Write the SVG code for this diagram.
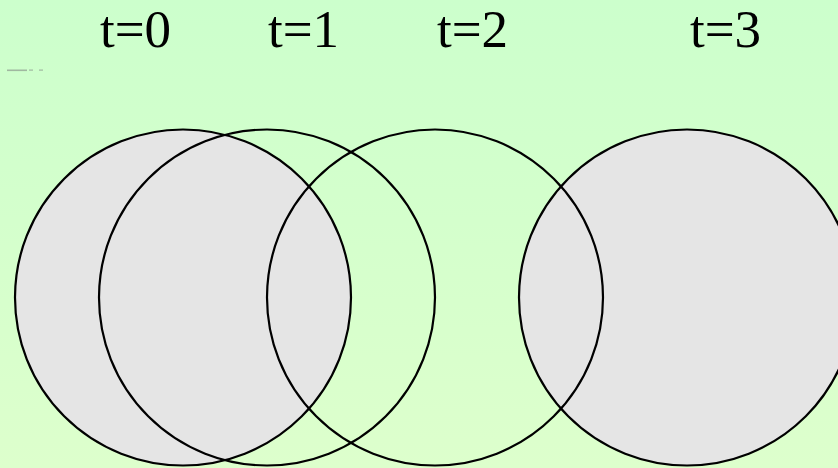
<svg xmlns="http://www.w3.org/2000/svg" width="838" height="468" viewBox="0 0 838 468">
  <defs>
    <linearGradient id="bg" x1="0" y1="0" x2="0" y2="1">
      <stop offset="0" stop-color="#CCFFCC"/>
      <stop offset="1" stop-color="#DDFFCC"/>
    </linearGradient>
  </defs>
  <style>
    .lbl { font-family: "Liberation Serif", "Times New Roman", serif; font-size: 53px; fill: #000; }
    .c { stroke: #000; stroke-width: 2.2; }
    .gray { fill: #E5E5E5; }
    .none { fill: none; }
    .mark { fill: #A0B8A0; }
  </style>
  <rect x="0" y="0" width="838" height="468" fill="url(#bg)"/>
  <g id="artifact">
    <rect class="mark" x="7" y="69.5" width="20" height="1.6"/>
    <rect class="mark" x="29" y="69.5" width="4" height="1.2"/>
    <rect class="mark" x="39" y="69.5" width="4" height="1.2"/>
  </g>
  <g id="fills">
    <circle class="gray" cx="183" cy="297.5" r="168"/>
    <circle class="gray" cx="687" cy="297.5" r="168"/>
  </g>
  <g id="c0"><circle class="c none" cx="183" cy="297.5" r="168"/><text class="lbl" x="100" y="46.5">t=0</text></g>
  <g id="c1"><circle class="c none" cx="267" cy="297.5" r="168"/><text class="lbl" x="268" y="46.5">t=1</text></g>
  <g id="c2"><circle class="c none" cx="435" cy="297.5" r="168"/><text class="lbl" x="437" y="46.5">t=2</text></g>
  <g id="c3"><circle class="c none" cx="687" cy="297.5" r="168"/><text class="lbl" x="690" y="46.5">t=3</text></g>
  <g id="connectors"></g>
</svg>
